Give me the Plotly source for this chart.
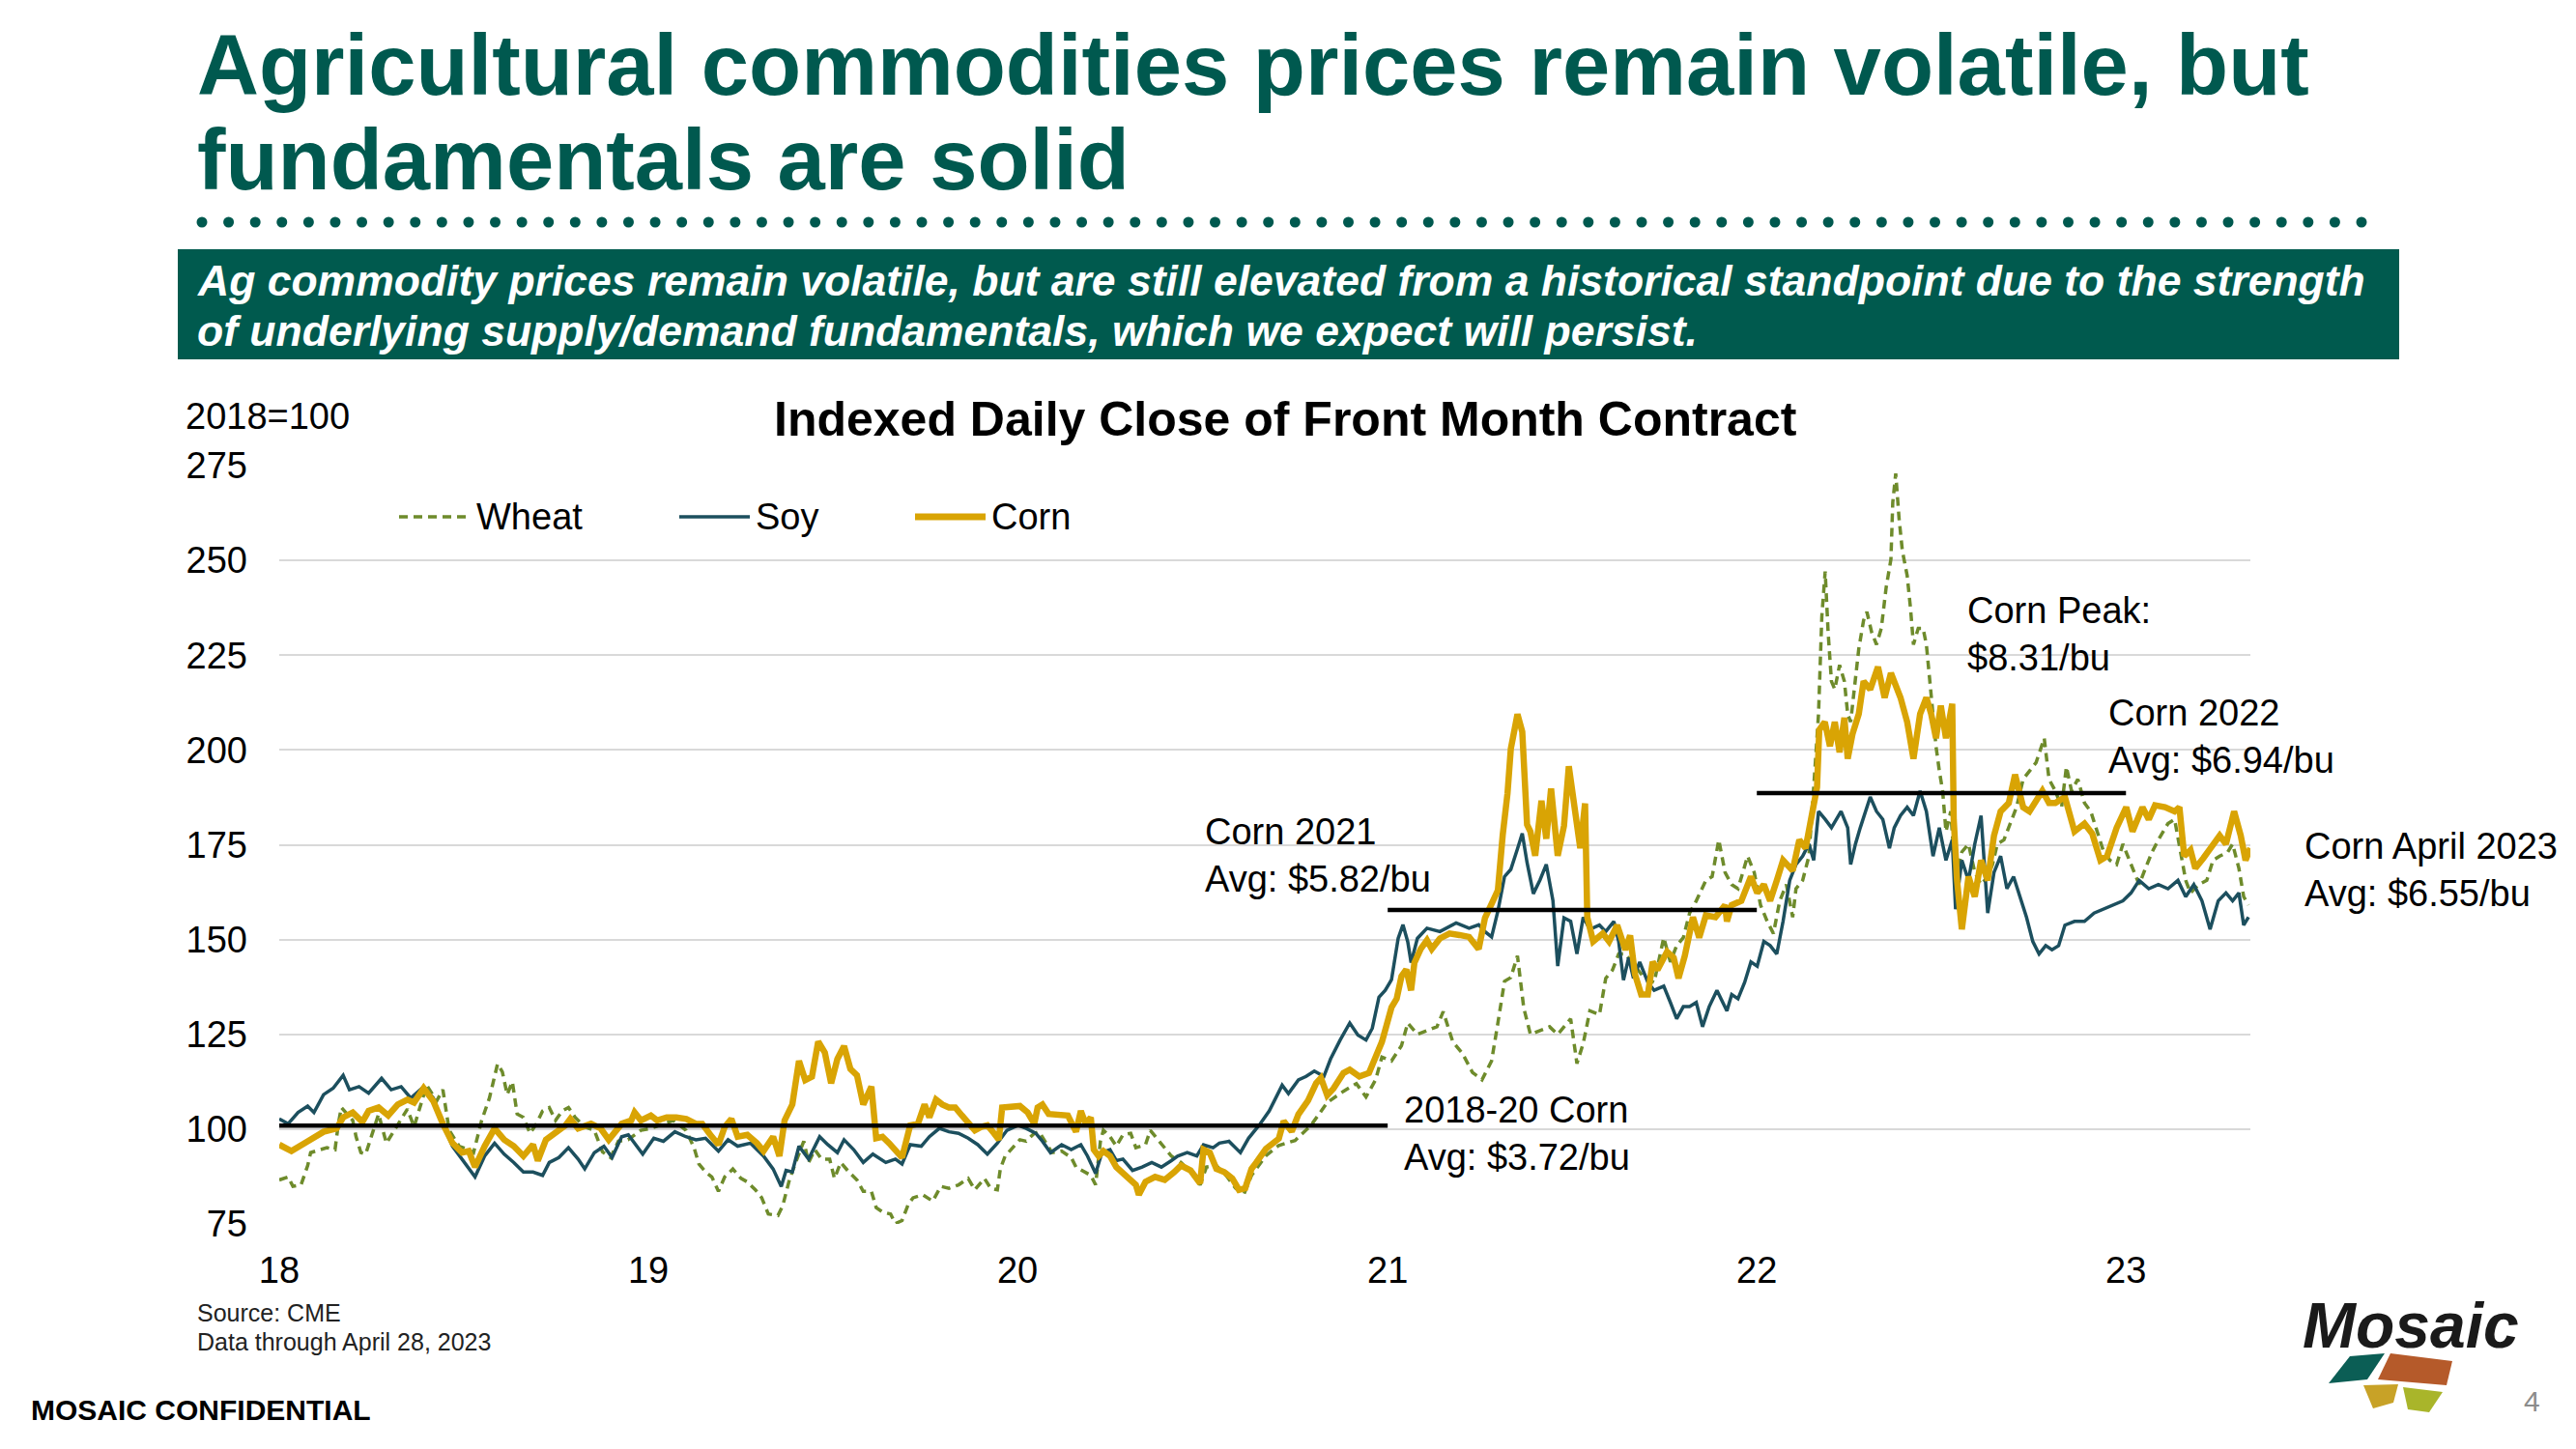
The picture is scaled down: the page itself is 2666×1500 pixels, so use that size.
import numpy as np
import pandas as pd
import plotly.graph_objects as go

# ---------------- DATA ----------------
# (decimal year, index level 2018=100)
corn_points = [
    (2018.000, 95.9), (2018.033, 94.2), (2018.077, 96.8), (2018.120, 99.3), (2018.155, 100.2), (2018.173, 103.1),
    (2018.199, 104.4), (2018.225, 101.9), (2018.242, 104.8), (2018.269, 105.7), (2018.295, 103.6), (2018.321, 106.5),
    (2018.347, 107.8), (2018.365, 107.0), (2018.391, 110.8), (2018.417, 107.4), (2018.443, 101.4), (2018.469, 96.3),
    (2018.495, 93.8), (2018.513, 94.2), (2018.530, 90.0), (2018.556, 95.5), (2018.583, 100.2), (2018.609, 97.2),
    (2018.635, 95.5), (2018.661, 92.9), (2018.687, 95.9), (2018.700, 91.7), (2018.722, 97.2), (2018.748, 98.9),
    (2018.775, 101.0), (2018.788, 102.7), (2018.809, 100.2), (2018.844, 101.4), (2018.870, 100.2), (2018.892, 97.2),
    (2018.927, 101.4), (2018.953, 102.3), (2018.962, 104.4), (2018.979, 102.3), (2019.006, 103.6), (2019.023, 102.3),
    (2019.049, 103.1), (2019.075, 103.1), (2019.102, 102.7), (2019.128, 101.4), (2019.145, 101.4), (2019.167, 98.5),
    (2019.189, 95.9), (2019.206, 100.6), (2019.224, 102.7), (2019.241, 98.0), (2019.267, 98.5), (2019.293, 96.3),
    (2019.311, 94.2), (2019.337, 98.0), (2019.354, 92.9), (2019.368, 102.3), (2019.389, 106.5), (2019.407, 118.0),
    (2019.424, 112.9), (2019.442, 113.8), (2019.459, 123.1), (2019.477, 120.2), (2019.494, 112.1), (2019.511, 118.5),
    (2019.529, 121.9), (2019.546, 115.9), (2019.564, 114.2), (2019.581, 106.5), (2019.603, 111.2), (2019.616, 97.6),
    (2019.633, 98.0), (2019.651, 96.3), (2019.668, 94.6), (2019.686, 92.5), (2019.708, 101.0), (2019.729, 101.4),
    (2019.747, 106.5), (2019.760, 103.1), (2019.778, 107.8), (2019.795, 106.5), (2019.813, 105.7), (2019.830, 105.7),
    (2019.848, 103.6), (2019.865, 101.9), (2019.883, 99.7), (2019.900, 100.6), (2019.917, 101.0), (2019.935, 98.9),
    (2019.948, 97.2), (2019.957, 105.7), (2019.979, 105.7), (2020.005, 106.1), (2020.026, 104.4), (2020.044, 101.4),
    (2020.053, 105.7), (2020.066, 106.5), (2020.083, 104.0), (2020.109, 103.6), (2020.135, 103.6), (2020.157, 99.3),
    (2020.170, 104.8), (2020.183, 101.4), (2020.197, 103.1), (2020.205, 94.6), (2020.218, 92.9), (2020.231, 94.2),
    (2020.249, 92.9), (2020.266, 90.0), (2020.292, 87.8), (2020.319, 85.3), (2020.327, 82.7), (2020.345, 86.1),
    (2020.371, 87.4), (2020.397, 86.6), (2020.423, 88.7), (2020.441, 90.4), (2020.467, 89.1), (2020.493, 85.7),
    (2020.502, 94.6), (2020.519, 93.8), (2020.537, 89.5), (2020.558, 88.7), (2020.580, 87.0), (2020.598, 84.0),
    (2020.615, 84.4), (2020.632, 89.5), (2020.645, 91.2), (2020.671, 94.8), (2020.706, 97.5), (2020.719, 102.1),
    (2020.741, 99.4), (2020.759, 103.9), (2020.785, 107.5), (2020.807, 112.1), (2020.820, 113.5), (2020.837, 108.9),
    (2020.854, 110.7), (2020.881, 114.8), (2020.898, 115.7), (2020.924, 113.9), (2020.950, 114.8), (2020.968, 119.4),
    (2020.985, 123.0), (2020.998, 127.5), (2021.011, 132.1), (2021.025, 134.4), (2021.038, 140.3), (2021.051, 142.1),
    (2021.064, 136.6), (2021.073, 143.9), (2021.090, 147.5), (2021.107, 149.8), (2021.120, 147.5), (2021.142, 150.3),
    (2021.168, 151.6), (2021.195, 151.2), (2021.221, 150.7), (2021.247, 147.5), (2021.264, 155.7), (2021.282, 159.4),
    (2021.299, 163.0), (2021.312, 177.5), (2021.325, 188.5), (2021.334, 200.3), (2021.352, 209.4), (2021.365, 204.8),
    (2021.378, 180.3), (2021.387, 178.5), (2021.400, 172.1), (2021.417, 186.6), (2021.430, 176.6), (2021.443, 189.8),
    (2021.461, 172.1), (2021.478, 180.0), (2021.491, 195.7), (2021.522, 174.1), (2021.535, 185.9), (2021.541, 155.9),
    (2021.557, 149.5), (2021.583, 151.6), (2021.600, 149.5), (2021.622, 153.8), (2021.644, 147.3), (2021.657, 151.1),
    (2021.670, 140.9), (2021.687, 135.5), (2021.705, 135.5), (2021.718, 144.1), (2021.731, 142.0), (2021.757, 146.8),
    (2021.775, 145.2), (2021.788, 139.8), (2021.805, 145.7), (2021.827, 155.9), (2021.844, 150.5), (2021.862, 156.4),
    (2021.888, 155.9), (2021.914, 159.1), (2021.919, 154.8), (2021.932, 159.1), (2021.958, 160.2), (2021.984, 166.6),
    (2022.001, 162.3), (2022.019, 164.5), (2022.036, 160.2), (2022.054, 165.6), (2022.071, 170.9), (2022.097, 168.2),
    (2022.115, 176.3), (2022.132, 174.1), (2022.150, 183.8), (2022.163, 190.2), (2022.169, 205.3), (2022.184, 207.4),
    (2022.198, 201.0), (2022.211, 207.4), (2022.224, 199.4), (2022.237, 208.5), (2022.246, 197.7), (2022.259, 204.2),
    (2022.276, 209.5), (2022.289, 218.1), (2022.307, 216.0), (2022.328, 221.9), (2022.346, 213.8), (2022.363, 220.3),
    (2022.389, 213.8), (2022.407, 207.4), (2022.424, 197.7), (2022.442, 209.5), (2022.459, 213.8), (2022.472, 209.5),
    (2022.485, 203.1), (2022.498, 211.7), (2022.512, 203.1), (2022.529, 212.2), (2022.533, 181.7), (2022.542, 165.6),
    (2022.555, 152.7), (2022.573, 166.6), (2022.590, 161.3), (2022.607, 170.9), (2022.625, 165.6), (2022.642, 177.4),
    (2022.660, 183.8), (2022.682, 186.0), (2022.699, 193.5), (2022.721, 184.9), (2022.738, 183.8), (2022.756, 187.0),
    (2022.773, 189.2), (2022.791, 186.0), (2022.808, 186.0), (2022.834, 187.6), (2022.860, 178.5), (2022.887, 180.6),
    (2022.908, 177.9), (2022.930, 170.9), (2022.948, 172.0), (2022.974, 179.5), (2023.000, 184.9), (2023.017, 178.5),
    (2023.044, 184.9), (2023.061, 181.7), (2023.078, 185.4), (2023.105, 184.9), (2023.131, 183.8), (2023.144, 184.9),
    (2023.157, 172.0), (2023.174, 173.6), (2023.187, 168.8), (2023.209, 171.5), (2023.235, 174.7), (2023.253, 177.4),
    (2023.270, 175.2), (2023.292, 183.8), (2023.310, 177.4), (2023.323, 170.9), (2023.336, 174.1),
]

soy_points = [
    (2018.000, 102.7), (2018.024, 101.4), (2018.051, 104.4), (2018.077, 106.1), (2018.094, 104.4), (2018.120, 109.1),
    (2018.146, 110.8), (2018.173, 114.2), (2018.190, 110.4), (2018.216, 111.2), (2018.242, 109.5), (2018.260, 111.6),
    (2018.277, 113.4), (2018.303, 110.4), (2018.330, 111.2), (2018.356, 108.2), (2018.391, 111.2), (2018.417, 108.2),
    (2018.443, 101.4), (2018.469, 95.5), (2018.495, 92.1), (2018.530, 87.4), (2018.556, 92.9), (2018.583, 96.3),
    (2018.609, 93.4), (2018.635, 91.2), (2018.661, 88.7), (2018.687, 88.7), (2018.713, 87.8), (2018.731, 91.2),
    (2018.757, 92.5), (2018.783, 95.1), (2018.809, 92.1), (2018.827, 89.5), (2018.853, 93.8), (2018.879, 95.5),
    (2018.901, 92.5), (2018.927, 98.0), (2018.945, 98.5), (2018.962, 96.3), (2018.984, 93.4), (2019.014, 97.6),
    (2019.040, 96.8), (2019.071, 99.3), (2019.101, 98.0), (2019.128, 97.2), (2019.154, 97.6), (2019.189, 94.2),
    (2019.215, 97.2), (2019.241, 95.5), (2019.276, 96.3), (2019.311, 92.9), (2019.337, 89.5), (2019.359, 84.9),
    (2019.372, 89.1), (2019.389, 88.7), (2019.407, 95.5), (2019.433, 92.1), (2019.463, 98.0), (2019.485, 95.9),
    (2019.511, 93.8), (2019.529, 97.2), (2019.555, 94.6), (2019.581, 91.2), (2019.607, 93.4), (2019.642, 91.2),
    (2019.668, 92.1), (2019.686, 90.8), (2019.708, 95.9), (2019.738, 95.5), (2019.760, 98.0), (2019.787, 100.2),
    (2019.813, 99.3), (2019.839, 98.9), (2019.865, 97.6), (2019.891, 95.9), (2019.917, 93.4), (2019.944, 96.3),
    (2019.970, 99.7), (2020.000, 101.0), (2020.022, 100.2), (2020.048, 98.9), (2020.066, 96.8), (2020.088, 93.8),
    (2020.118, 95.9), (2020.144, 94.6), (2020.170, 95.9), (2020.188, 92.9), (2020.210, 88.3), (2020.227, 93.8),
    (2020.249, 94.6), (2020.266, 91.7), (2020.284, 92.1), (2020.310, 89.1), (2020.336, 90.0), (2020.362, 91.2),
    (2020.388, 90.0), (2020.415, 91.7), (2020.432, 92.9), (2020.458, 93.8), (2020.484, 92.9), (2020.502, 95.9),
    (2020.528, 95.1), (2020.545, 96.3), (2020.571, 96.8), (2020.602, 93.8), (2020.624, 97.6), (2020.654, 101.2),
    (2020.680, 104.8), (2020.715, 111.6), (2020.732, 109.4), (2020.759, 113.0), (2020.780, 113.9), (2020.802, 115.3),
    (2020.828, 113.9), (2020.846, 118.5), (2020.872, 123.5), (2020.898, 128.0), (2020.920, 124.8), (2020.942, 123.5),
    (2020.959, 126.6), (2020.977, 134.8), (2020.994, 136.6), (2021.011, 139.4), (2021.029, 150.3), (2021.042, 153.9),
    (2021.055, 149.4), (2021.064, 143.9), (2021.081, 150.3), (2021.107, 153.0), (2021.142, 152.1), (2021.186, 154.4),
    (2021.221, 153.0), (2021.247, 153.9), (2021.264, 152.1), (2021.282, 150.7), (2021.299, 157.5), (2021.317, 166.6),
    (2021.334, 168.5), (2021.352, 173.9), (2021.365, 178.0), (2021.378, 170.3), (2021.395, 162.1), (2021.413, 165.7),
    (2021.430, 169.8), (2021.448, 160.3), (2021.461, 143.0), (2021.478, 155.7), (2021.496, 154.8), (2021.513, 146.2),
    (2021.530, 155.9), (2021.548, 152.7), (2021.574, 153.8), (2021.591, 152.1), (2021.613, 154.8), (2021.626, 149.5),
    (2021.639, 139.3), (2021.653, 145.2), (2021.666, 139.8), (2021.683, 144.1), (2021.705, 138.7), (2021.722, 136.6),
    (2021.748, 137.7), (2021.766, 133.4), (2021.783, 129.1), (2021.801, 132.3), (2021.818, 132.3), (2021.836, 133.4),
    (2021.853, 127.0), (2021.871, 132.3), (2021.892, 136.6), (2021.919, 131.2), (2021.932, 135.5), (2021.949, 134.4),
    (2021.967, 138.7), (2021.984, 144.1), (2022.001, 143.0), (2022.019, 149.5), (2022.036, 148.4), (2022.054, 146.2),
    (2022.071, 154.8), (2022.089, 165.6), (2022.106, 169.8), (2022.124, 172.0), (2022.141, 175.2), (2022.154, 170.9),
    (2022.167, 183.8), (2022.185, 181.7), (2022.202, 179.5), (2022.228, 183.8), (2022.246, 179.5), (2022.254, 169.8),
    (2022.267, 175.2), (2022.280, 179.5), (2022.307, 187.6), (2022.324, 183.8), (2022.341, 181.7), (2022.359, 174.1),
    (2022.372, 179.5), (2022.389, 182.7), (2022.407, 184.9), (2022.424, 182.7), (2022.442, 189.2), (2022.459, 183.8),
    (2022.477, 172.0), (2022.494, 179.5), (2022.512, 170.9), (2022.529, 176.3), (2022.538, 158.0), (2022.555, 170.9),
    (2022.573, 165.6), (2022.590, 175.2), (2022.607, 182.7), (2022.625, 157.0), (2022.642, 167.7), (2022.660, 172.0),
    (2022.677, 163.4), (2022.695, 166.6), (2022.712, 161.3), (2022.730, 155.9), (2022.747, 149.5), (2022.764, 146.2),
    (2022.782, 148.4), (2022.799, 147.3), (2022.817, 148.4), (2022.834, 153.8), (2022.860, 154.8), (2022.887, 154.8),
    (2022.913, 157.0), (2022.939, 158.0), (2022.965, 159.1), (2022.991, 160.2), (2023.013, 162.3), (2023.035, 165.6),
    (2023.061, 163.4), (2023.087, 164.5), (2023.113, 163.4), (2023.140, 165.6), (2023.161, 161.3), (2023.183, 164.5),
    (2023.205, 160.2), (2023.227, 152.7), (2023.249, 160.2), (2023.270, 162.3), (2023.288, 160.2), (2023.305, 162.3),
    (2023.318, 153.8), (2023.331, 155.9),
]

wheat_points = [
    (2018.000, 86.6), (2018.024, 87.4), (2018.037, 84.9), (2018.059, 85.3), (2018.077, 90.4), (2018.085, 93.8),
    (2018.112, 94.6), (2018.129, 95.1), (2018.151, 94.6), (2018.160, 101.4), (2018.168, 105.7), (2018.199, 102.3),
    (2018.208, 98.0), (2018.221, 93.8), (2018.234, 93.4), (2018.251, 98.9), (2018.269, 104.0), (2018.290, 96.3),
    (2018.317, 100.6), (2018.347, 105.3), (2018.365, 100.6), (2018.382, 106.5), (2018.399, 111.6), (2018.426, 107.4),
    (2018.443, 110.4), (2018.460, 99.7), (2018.487, 95.5), (2018.513, 94.6), (2018.526, 93.8), (2018.548, 102.3),
    (2018.569, 108.2), (2018.591, 117.2), (2018.604, 115.1), (2018.617, 109.1), (2018.631, 112.5), (2018.644, 104.0),
    (2018.661, 103.1), (2018.679, 98.9), (2018.696, 101.4), (2018.713, 104.8), (2018.731, 105.7), (2018.748, 102.3),
    (2018.766, 104.8), (2018.783, 105.7), (2018.801, 103.1), (2018.827, 100.6), (2018.853, 99.7), (2018.875, 94.0),
    (2018.897, 92.5), (2018.918, 96.8), (2018.944, 97.2), (2018.979, 99.7), (2019.006, 100.2), (2019.040, 101.4),
    (2019.067, 102.3), (2019.101, 99.7), (2019.123, 95.1), (2019.136, 90.8), (2019.154, 88.7), (2019.171, 87.4),
    (2019.189, 83.6), (2019.206, 87.4), (2019.228, 89.5), (2019.250, 87.0), (2019.267, 86.1), (2019.289, 84.0),
    (2019.306, 81.9), (2019.324, 77.6), (2019.350, 77.2), (2019.363, 79.8), (2019.381, 86.6), (2019.398, 91.2),
    (2019.420, 96.8), (2019.433, 91.2), (2019.450, 94.6), (2019.468, 92.1), (2019.490, 92.1), (2019.503, 87.0),
    (2019.520, 91.2), (2019.542, 88.7), (2019.564, 86.6), (2019.581, 83.6), (2019.603, 83.6), (2019.616, 79.3),
    (2019.634, 78.1), (2019.655, 77.6), (2019.668, 75.1), (2019.686, 75.9), (2019.703, 80.2), (2019.716, 81.9),
    (2019.742, 82.7), (2019.769, 81.0), (2019.791, 84.9), (2019.813, 84.4), (2019.839, 85.3), (2019.865, 87.0),
    (2019.883, 84.0), (2019.909, 87.0), (2019.926, 84.4), (2019.944, 84.0), (2019.952, 89.5), (2019.965, 92.9),
    (2019.987, 95.1), (2020.005, 97.2), (2020.022, 96.8), (2020.044, 98.9), (2020.057, 99.3), (2020.074, 96.8),
    (2020.092, 93.8), (2020.118, 94.2), (2020.144, 92.5), (2020.157, 90.0), (2020.179, 88.7), (2020.197, 87.8),
    (2020.210, 85.3), (2020.223, 96.8), (2020.231, 99.7), (2020.249, 98.0), (2020.266, 95.5), (2020.284, 98.5),
    (2020.305, 98.9), (2020.319, 95.1), (2020.345, 95.9), (2020.358, 99.7), (2020.415, 92.9), (2020.441, 91.2),
    (2020.467, 88.7), (2020.493, 85.3), (2020.510, 90.0), (2020.537, 90.4), (2020.563, 87.8), (2020.589, 84.4),
    (2020.611, 82.7), (2020.632, 87.8), (2020.671, 93.0), (2020.706, 95.7), (2020.750, 97.0), (2020.793, 101.0),
    (2020.837, 107.0), (2020.881, 110.0), (2020.916, 112.0), (2020.942, 108.5), (2020.968, 113.0), (2020.985, 119.0),
    (2021.011, 118.0), (2021.038, 122.0), (2021.055, 128.0), (2021.081, 125.0), (2021.107, 126.0), (2021.134, 127.0),
    (2021.151, 131.0), (2021.177, 123.0), (2021.203, 120.0), (2021.230, 115.0), (2021.256, 113.0), (2021.282, 118.0),
    (2021.299, 128.0), (2021.317, 139.0), (2021.334, 140.0), (2021.352, 145.7), (2021.369, 132.0), (2021.387, 125.0),
    (2021.413, 126.0), (2021.439, 127.0), (2021.461, 125.0), (2021.496, 129.1), (2021.513, 117.3), (2021.530, 122.6),
    (2021.548, 131.2), (2021.574, 130.2), (2021.591, 139.8), (2021.609, 141.9), (2021.626, 146.2), (2021.644, 146.2),
    (2021.670, 143.0), (2021.696, 139.8), (2021.722, 138.7), (2021.748, 150.5), (2021.766, 144.1), (2021.783, 148.4),
    (2021.801, 150.5), (2021.818, 157.0), (2021.836, 160.2), (2021.862, 165.6), (2021.879, 166.6), (2021.897, 176.3),
    (2021.914, 167.7), (2021.932, 164.5), (2021.949, 163.4), (2021.975, 172.0), (2021.993, 167.7), (2022.010, 159.1),
    (2022.028, 154.8), (2022.045, 151.6), (2022.062, 160.2), (2022.080, 164.5), (2022.097, 155.9), (2022.106, 163.4),
    (2022.124, 165.6), (2022.141, 172.0), (2022.154, 190.2), (2022.167, 209.5), (2022.176, 235.3), (2022.185, 247.1),
    (2022.193, 231.0), (2022.202, 218.1), (2022.211, 216.0), (2022.224, 222.4), (2022.237, 218.1), (2022.246, 209.5),
    (2022.254, 207.4), (2022.263, 216.0), (2022.276, 226.7), (2022.289, 234.2), (2022.298, 236.4), (2022.311, 231.0),
    (2022.324, 227.8), (2022.337, 232.1), (2022.350, 242.8), (2022.363, 250.3), (2022.368, 265.3), (2022.376, 272.9),
    (2022.385, 261.1), (2022.394, 252.5), (2022.407, 246.0), (2022.416, 237.4), (2022.424, 227.8), (2022.437, 232.1),
    (2022.450, 232.1), (2022.459, 227.8), (2022.468, 218.1), (2022.477, 209.5), (2022.485, 201.0), (2022.494, 194.5),
    (2022.503, 189.2), (2022.512, 178.5), (2022.525, 183.8), (2022.538, 165.6), (2022.555, 173.1), (2022.573, 175.2),
    (2022.590, 167.7), (2022.607, 164.5), (2022.625, 166.6), (2022.638, 169.8), (2022.651, 175.2), (2022.669, 176.3),
    (2022.686, 180.6), (2022.703, 184.9), (2022.721, 192.3), (2022.738, 194.5), (2022.756, 196.7), (2022.778, 203.1),
    (2022.791, 192.3), (2022.808, 189.2), (2022.825, 184.9), (2022.838, 195.6), (2022.852, 189.2), (2022.869, 192.3),
    (2022.887, 186.0), (2022.904, 183.8), (2022.921, 178.5), (2022.939, 173.1), (2022.956, 170.9), (2022.974, 169.8),
    (2022.991, 175.2), (2023.009, 170.9), (2023.035, 164.5), (2023.052, 168.8), (2023.070, 173.1), (2023.087, 176.3),
    (2023.113, 180.6), (2023.131, 181.7), (2023.148, 173.1), (2023.161, 165.6), (2023.174, 162.3), (2023.196, 164.5),
    (2023.218, 165.6), (2023.235, 170.9), (2023.253, 172.0), (2023.275, 173.1), (2023.288, 175.2), (2023.305, 168.8),
    (2023.318, 161.3), (2023.331, 159.1),
]

# Corn average reference lines (index level)
avg_starts = ["2018-01-01", "2021-01-01", "2022-01-01"]
avg_ends = ["2021-01-01", "2022-01-01", "2023-01-01"]
avg_levels = [100.9, 157.8, 188.6]

year_ticks = ["2018-01-01", "2019-01-01", "2020-01-01", "2021-01-01", "2022-01-01", "2023-01-01"]
year_labels = ["18", "19", "20", "21", "22", "23"]
y_ticks = [75, 100, 125, 150, 175, 200, 225, 250, 275]

series_names = ["Wheat", "Soy", "Corn"]

# ---------------- STYLE ----------------
FONT = "Liberation Sans, Arial, Helvetica, sans-serif"
TEAL = "#00594F"
C_WHEAT = "#6E8B2B"
C_SOY = "#1C4F5E"
C_CORN = "#D9A404"
WHEAT_DASH = "9px,6px"

W, H = 2666, 1500
L, R, T, B = 289, 2329, 482, 1267


def xp(px):
    return (px - L) / (R - L)


def yp(py):
    return (B - py) / (B - T)


def to_dates(ts):
    ts = np.asarray(ts, dtype=float)
    return pd.Timestamp("2018-01-01") + pd.to_timedelta((ts - 2018.0) * 365.25, unit="D")


def unzip(points):
    t = [p[0] for p in points]
    v = [p[1] for p in points]
    return to_dates(t), v


fig = go.Figure()

wx, wy = unzip(wheat_points)
sx, sy = unzip(soy_points)
cx, cy = unzip(corn_points)

fig.add_trace(go.Scatter(x=wx, y=wy, mode="lines", name=series_names[0],
                         line=dict(color=C_WHEAT, width=3.5, dash=WHEAT_DASH)))
fig.add_trace(go.Scatter(x=sx, y=sy, mode="lines", name=series_names[1],
                         line=dict(color=C_SOY, width=3.5)))
fig.add_trace(go.Scatter(x=cx, y=cy, mode="lines", name=series_names[2],
                         line=dict(color=C_CORN, width=6.5)))

for s, e, lv in zip(avg_starts, avg_ends, avg_levels):
    fig.add_trace(go.Scatter(x=[s, e], y=[lv, lv], mode="lines", showlegend=False,
                             line=dict(color="#000000", width=4.5)))

shapes = []
annotations = []


def ann(text, x, y, size, xanchor="left", yanchor="middle", color="#000000",
        weight="normal", style="normal"):
    annotations.append(dict(text=text, x=xp(x), y=yp(y), xref="paper", yref="paper",
                            xanchor=xanchor, yanchor=yanchor, showarrow=False, align="left",
                            font=dict(family=FONT, size=size, color=color, weight=weight, style=style)))


# Title
ann("Agricultural commodities prices remain volatile, but", 202, 68, 88.6, color=TEAL, weight="bold")
ann("fundamentals are solid", 202, 165, 88.6, color=TEAL, weight="bold")

# dotted rule
n_dots = 82
x_first, x_last = 209, 2444
for i in range(n_dots):
    c = x_first + i * (x_last - x_first) / (n_dots - 1)
    shapes.append(dict(type="circle", xref="paper", yref="paper",
                       x0=xp(c - 5.5), x1=xp(c + 5.5), y0=yp(230 + 5.5), y1=yp(230 - 5.5),
                       fillcolor=TEAL, line=dict(width=0)))

# banner
shapes.append(dict(type="rect", xref="paper", yref="paper", x0=xp(184), x1=xp(2483),
                   y0=yp(372), y1=yp(258), fillcolor="#005A4E", line=dict(width=0)))
ann("Ag commodity prices remain volatile, but are still elevated from a historical standpoint due to the strength",
    202, 290, 44.5, color="#FFFFFF", weight="bold", style="italic")
ann("of underlying supply/demand fundamentals, which we expect will persist.",
    202, 342, 44.5, color="#FFFFFF", weight="bold", style="italic")

# chart title and unit
ann("Indexed Daily Close of Front Month Contract", 1330, 434, 50, xanchor="center", weight="bold")
ann("2018=100", 190, 431, 38)

# manual legend
leg_y = 535
leg = [("Wheat", C_WHEAT, 3.5, WHEAT_DASH, 413, 488, 491),
       ("Soy", C_SOY, 3.5, "solid", 703, 776, 780),
       ("Corn", C_CORN, 7, "solid", 947, 1020, 1024)]
for name, col, wdt, dash, x0, x1, tx in leg:
    shapes.append(dict(type="line", xref="paper", yref="paper", x0=xp(x0), x1=xp(x1),
                       y0=yp(leg_y), y1=yp(leg_y), line=dict(color=col, width=wdt, dash=dash)))
    ann(name, tx, leg_y, 38)

# in-chart annotations
ann("Corn Peak:<br>$8.31/bu", 2034, 656, 38)
ann("Corn 2022<br>Avg: $6.94/bu", 2180, 762, 38)
ann("Corn 2021<br>Avg: $5.82/bu", 1245, 885, 38)
ann("2018-20 Corn<br>Avg: $3.72/bu", 1451, 1173, 38)
ann("Corn April 2023<br>Avg: $6.55/bu", 2383, 900, 38)

# footer
ann("Source: CME", 202, 1359, 25, color="#222222")
ann("Data through April 28, 2023", 202, 1389, 25, color="#222222")
ann("MOSAIC CONFIDENTIAL", 30, 1459, 30, weight="bold")
ann("4", 2620, 1450, 30, xanchor="center", color="#8C8C8C")

# logo (text + tiles)
ann("Mosaic", 2495, 1372, 66, xanchor="center", weight="bold", style="italic", color="#1A1A1A")


def poly(pts, color):
    d = "M " + " L ".join(f"{xp(px):.5f},{yp(py):.5f}" for px, py in pts) + " Z"
    shapes.append(dict(type="path", xref="paper", yref="paper", path=d,
                       fillcolor=color, line=dict(width=0)))


poly([(2432, 1404), (2468, 1401), (2450, 1428), (2410, 1432)], "#0B5E55")
poly([(2474, 1401), (2538, 1409), (2532, 1434), (2461, 1428)], "#B55A2A")
poly([(2446, 1434), (2482, 1433), (2477, 1452), (2456, 1458)], "#C8A227")
poly([(2487, 1436), (2528, 1441), (2514, 1462), (2492, 1459)], "#A9B52A")

fig.update_layout(
    width=W, height=H, autosize=False,
    margin=dict(l=L, r=W - R, t=T, b=H - B, pad=0),
    paper_bgcolor="#FFFFFF", plot_bgcolor="#FFFFFF",
    showlegend=False,
    font=dict(family=FONT, size=38, color="#000000"),
    shapes=shapes, annotations=annotations,
    xaxis=dict(type="date", range=["2018-01-01", "2023-05-04"],
               tickvals=year_ticks, ticktext=year_labels,
               showgrid=False, zeroline=False, showline=False, ticks="",
               tickfont=dict(family=FONT, size=38, color="#000000"),
               ticklabelstandoff=22),
    yaxis=dict(range=[75, 275], tickvals=y_ticks,
               showgrid=True, gridcolor="#D9D9D9", gridwidth=2,
               zeroline=False, showline=False, ticks="",
               tickfont=dict(family=FONT, size=38, color="#000000"),
               ticklabelstandoff=32),
)

fig.write_html("out.html")
